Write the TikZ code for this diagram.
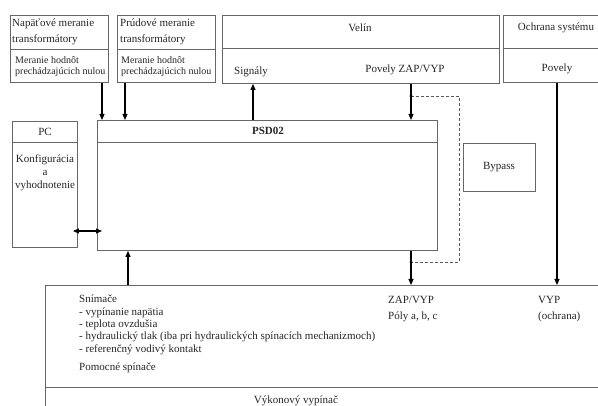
\documentclass[tikz,border=0pt]{standalone}
\usepackage{fontspec}
\setmainfont{Liberation Serif}
\usetikzlibrary{arrows.meta}
\begin{document}
\begin{tikzpicture}[x=1pt,y=-1pt,
  box/.style={draw=black!60,line width=0.9pt,inner sep=0pt,anchor=north west},
  sep/.style={draw=black!60,line width=0.9pt},
  arr/.style={draw=black,line width=1.1pt,-{Triangle[length=6pt,width=5pt]}},
  dbl/.style={draw=black,line width=1.1pt,{Triangle[length=6pt,width=5pt]}-{Triangle[length=6pt,width=5pt]}},
  lbl/.style={inner sep=0pt,text=black!85,font=\fontsize{11}{13}\selectfont},
  sml/.style={inner sep=0pt,text=black!85,font=\fontsize{10}{10.5}\selectfont}]
\useasboundingbox (0,0) rectangle (598,406);
\clip (0,0) rectangle (598,406);
\fill[white] (0,0) rectangle (598,406);

% boxes
\node[box,minimum width=98pt,minimum height=67pt] (nap) at (10,15) {};
\node[box,minimum width=98pt,minimum height=67pt] (pru) at (117,15) {};
\node[box,minimum width=277pt,minimum height=68pt] (vel) at (222,15) {};
\node[box,minimum width=110pt,minimum height=67pt] (och) at (503,15) {};
\node[box,minimum width=65pt,minimum height=126pt] (pc) at (12,121) {};
\node[box,minimum width=340pt,minimum height=130pt] (psd) at (97,120) {};
\node[box,minimum width=72pt,minimum height=48pt] (byp) at (463,143) {};
\node[box,minimum width=570pt,minimum height=140pt] (out) at (45,285) {};

% header dividers
\coordinate (hA) at (0,49);
\coordinate (hB) at (0,48);
\coordinate (hC) at (0,142);
\coordinate (hD) at (0,387);
\draw[sep] (nap.west |- hA) -- (nap.east |- hA);
\draw[sep] (pru.west |- hA) -- (pru.east |- hA);
\draw[sep] (vel.west |- hB) -- (vel.east |- hB);
\draw[sep] (och.west |- hB) -- (och.east |- hB);
\draw[sep] (pc.west |- hC) -- (pc.east |- hC);
\draw[sep] (psd.west |- hC) -- (psd.east |- hC);
\draw[sep] (out.west |- hD) -- (out.east |- hD);

% texts
\node[lbl,anchor=west,align=left,font=\fontsize{11}{16}\selectfont] (napT) at (12,32) {Napäťové meranie\\transformátory};
\node[sml,anchor=west,align=left] (napS) at (15,66.5) {Meranie hodnôt\\prechádzajúcich nulou};
\node[lbl,anchor=west,align=left,font=\fontsize{11}{16}\selectfont] (pruT) at (120,32) {Prúdové meranie\\transformátory};
\node[sml,anchor=west,align=left] (pruS) at (121,66.5) {Meranie hodnôt\\prechádzajúcich nulou};
\node[lbl] (velT) at (360,28) {Velín};
\node[lbl] (sig) at (251,72) {Signály};
\node[lbl] (pov) at (405,70) {Povely ZAP/VYP};
\node[lbl] (ochT) at (556,28) {Ochrana systému};
\node[lbl] (ochP) at (557,69) {Povely};
\node[lbl] (pcT) at (45,132) {PC};
\node[lbl,align=center] (pcS) at (45,173) {Konfigurácia\\a\\vyhodnotenie};
\node[lbl,font=\fontsize{11}{13}\selectfont\bfseries] (psdT) at (268,131) {PSD02};
\node[lbl] (bypT) at (499,167) {Bypass};
\node[lbl,anchor=north west,align=left,font=\fontsize{11}{12.3}\selectfont] (sens) at (79,295)
  {Snímače\\- vypínanie napätia\\- teplota ovzdušia\\- hydraulický tlak (iba pri hydraulických spínacích mechanizmoch)\\- referenčný vodivý kontakt\\[6pt]Pomocné spínače};
\node[lbl,anchor=north west,align=left,font=\fontsize{11}{16}\selectfont] (zap) at (388,296) {ZAP/VYP\\Póly a, b, c};
\node[lbl,anchor=north west,align=left,font=\fontsize{11}{16}\selectfont] (vyp) at (538,296) {VYP\\(ochrana)};
\node[lbl] (vv) at (296,401) {Výkonový vypínač};

% connector columns
\coordinate (cA) at (102,0);
\coordinate (cB) at (125,0);
\coordinate (cC) at (253,0);
\coordinate (cD) at (411,0);
\coordinate (cE) at (557,0);
\coordinate (cF) at (128,0);
\coordinate (cG) at (459,0);
\coordinate (rowPC) at (0,231);
\coordinate (dTop) at (0,96);
\coordinate (dBot) at (0,262);

% connectors
\draw[arr] (nap.south -| cA) -- (psd.north -| cA);
\draw[arr] (pru.south -| cB) -- (psd.north -| cB);
\draw[arr] (psd.north -| cC) -- (vel.south -| cC);
\draw[arr] (vel.south -| cD) -- (psd.north -| cD);
\draw[arr] (och.south -| cE) -- (out.north -| cE);
\draw[arr] (psd.south -| cD) -- (out.north -| cD);
\draw[arr] (out.north -| cF) -- (psd.south -| cF);
\draw[dbl,shorten <=-5pt,shorten >=-5pt] (pc.east |- rowPC) -- (psd.west |- rowPC);

% bypass loop
\draw[black!65,line width=0.8pt,dash pattern=on 3pt off 2pt]
  (cD |- dTop) -- (cG |- dTop) -- (cG |- dBot) -- (cD |- dBot);
\fill[black] (cD |- dTop) circle (1.6pt);
\fill[black] (cD |- dBot) circle (1.6pt);
\end{tikzpicture}
\end{document}
